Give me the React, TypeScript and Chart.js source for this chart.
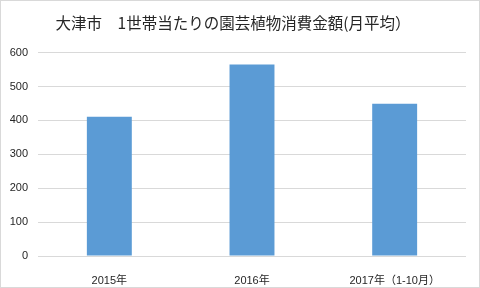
import React, { useEffect, useRef } from "react";
import { Chart, registerables } from "chart.js";

Chart.register(...registerables);

const categories = ["2015年", "2016年", "2017年（1-10月）"];
const values = [411, 565, 449];
const titleText = "大津市　1世帯当たりの園芸植物消費金額(月平均）";

export default function App() {
  const ref = useRef<HTMLCanvasElement | null>(null);
  useEffect(() => {
    if (!ref.current) return;
    const font = "'Liberation Sans', 'Noto Sans CJK JP', sans-serif";
    const chart = new Chart(ref.current, {
      type: "bar",
      data: {
        labels: categories,
        datasets: [
          {
            data: values,
            backgroundColor: "#5b9bd5",
            barPercentage: 0.315,
            categoryPercentage: 1,
          },
        ],
      },
      options: {
        animation: false,
        responsive: true,
        maintainAspectRatio: false,
        layout: { padding: { left: 0, right: 14, top: 0, bottom: 0 } },
        plugins: {
          legend: { display: false },
          tooltip: { enabled: false },
          title: {
            display: true,
            text: titleText,
            color: "#262626",
            font: { family: "'Noto Sans CJK JP', sans-serif", size: 15.5, weight: "normal" },
            padding: { top: 14, bottom: 20 },
          },
        },
        scales: {
          x: {
            grid: { display: false },
            border: { display: false },
            ticks: {
              color: "#262626",
              font: { family: font, size: 11 },
              padding: 10,
              maxRotation: 0,
            },
            afterFit: (s: any) => {
              s.height = 32;
            },
          },
          y: {
            min: 0,
            max: 600,
            grid: { color: "#d9d9d9", drawTicks: false },
            border: { display: false },
            ticks: {
              stepSize: 100,
              color: "#262626",
              font: { family: font, size: 11 },
              padding: 10,
            },
            afterFit: (s: any) => {
              s.width = 38;
            },
          },
        },
      },
    });
    return () => chart.destroy();
  }, []);
  return (
    <div style={{ position: "fixed", left: 0, top: 0, width: 480, height: 288, background: "#fff" }}>
      <canvas ref={ref} />
      <div
        style={{
          position: "absolute",
          left: 0,
          top: 0,
          width: 480,
          height: 288,
          boxSizing: "border-box",
          border: "1px solid #d9d9d9",
          pointerEvents: "none",
        }}
      />
    </div>
  );
}
